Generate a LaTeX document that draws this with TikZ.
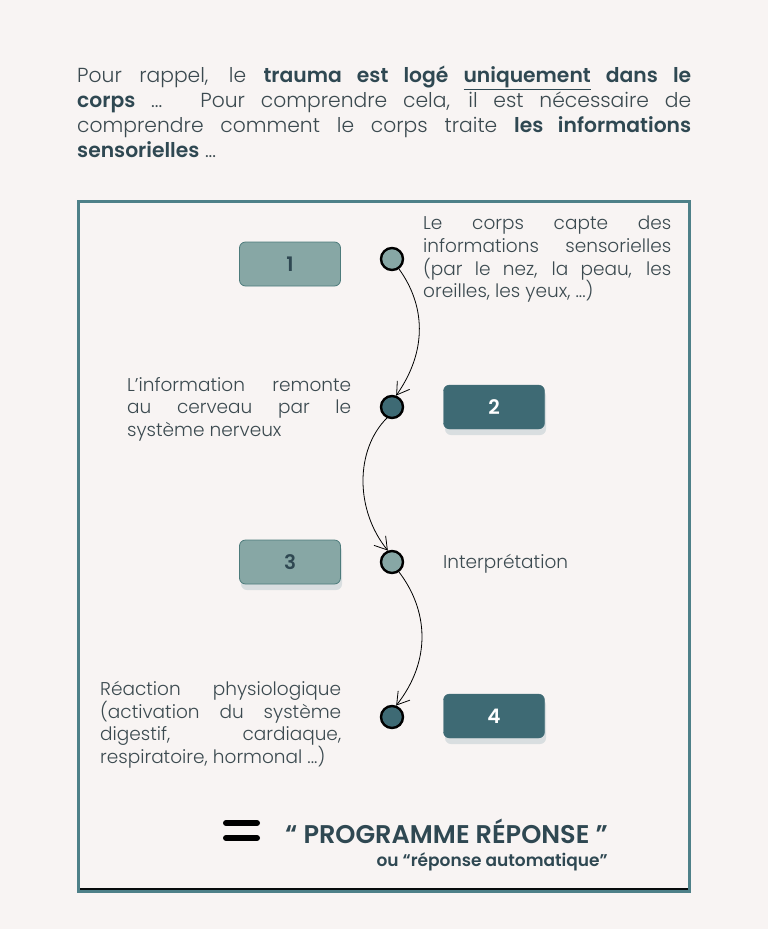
\documentclass[tikz,border=0pt]{standalone}
\usepackage{fontspec}
\IfFontExistsTF{Poppins Light}{\IfFontExistsTF{Poppins SemiBold}{\setmainfont{Poppins Light}[BoldFont=Poppins SemiBold]}{\setmainfont{Poppins Light}[BoldFont=Poppins Medium]}}{\setmainfont{Poppins}}
\usetikzlibrary{arrows.meta}
\definecolor{bg}{HTML}{F8F4F3}
\definecolor{ink}{HTML}{2F4852}
\definecolor{body}{HTML}{3C4A50}
\definecolor{lightbox}{HTML}{87A7A5}
\definecolor{lightedge}{HTML}{4D7B7B}
\definecolor{darkbox}{HTML}{3E6A74}
\definecolor{frame}{HTML}{4E8088}
\definecolor{shadowc}{HTML}{D9DEE0}
\tikzset{
  numbox/.style={rounded corners=6pt, minimum width=101pt, minimum height=44pt, font=\bfseries\fontsize{20}{20}\selectfont, inner sep=0pt},
  lightnum/.style={numbox, fill=lightbox, draw=lightedge, line width=0.8pt, text=ink},
  darknum/.style={numbox, fill=darkbox, draw=darkbox, text=white},
  dot/.style={circle, minimum size=22pt, inner sep=0pt, draw=black, line width=2.4pt},
  flow/.style={-{Straight Barb[length=12pt,width=15pt]}, line width=0.8pt, black},
  para/.style={anchor=north west, inner sep=0pt, align=justify, text=body,
    font=\fontsize{18.5}{22.6}\selectfont\hyphenpenalty10000\exhyphenpenalty10000},
}
\begin{document}
\begin{tikzpicture}[x=1pt,y=-1pt]
\useasboundingbox[fill=bg] (0,0) rectangle (768,929);
% intro text
\node[anchor=north west, inner sep=0pt, text width=614pt, align=justify, text=body,
  font=\fontsize{20.3}{25}\selectfont\hyphenpenalty10000] (intro) at (77,66)
  {Pour rappel, le \textcolor{ink}{\textbf{trauma est logé \underline{uniquement} dans le}}\linebreak
   \textcolor{ink}{\textbf{corps}} ... Pour comprendre cela, il est nécessaire de\linebreak
   comprendre comment le corps traite \textcolor{ink}{\textbf{les informations}}\linebreak
   \textcolor{ink}{\textbf{sensorielles}} ...};
% frame
\draw[frame, line width=3pt] (78.5,201.5) rectangle (689,891);
\draw[black!85!ink, line width=2pt] (80,888.5) -- (687.5,888.5);
% shadows
\fill[shadowc, rounded corners=6pt] (445,390) rectangle (546,435);
\fill[shadowc, rounded corners=6pt] (241,545) rectangle (342,590);
\fill[shadowc, rounded corners=6pt] (445,699) rectangle (546,744);
% number boxes
\node[lightnum] (b1) at (290,264) {1};
\node[darknum] (b2) at (494,407) {2};
\node[lightnum] (b3) at (290,562) {3};
\node[darknum] (b4) at (494,716) {4};
% dots
\node[dot, fill=lightbox] (c1) at (392,259) {};
\node[dot, fill=darkbox] (c2) at (392,407) {};
\node[dot, fill=lightbox] (c3) at (392,562) {};
\node[dot, fill=darkbox] (c4) at (392,717) {};
% arrows
\draw[flow] (c1.-55) .. controls (425,305) and (428,350) .. (c2.70);
\draw[flow] (c2.-115) .. controls (355,450) and (355,510) .. (c3.110);
\draw[flow] (c3.-55) .. controls (428,610) and (432,660) .. (c4.70);
% texts
\node[para, text width=248pt] (t1) at (423,216)
  {Le corps capte des\linebreak informations sensorielles\linebreak (par le nez, la peau, les\linebreak oreilles, les yeux, ...)};
\node[para, text width=224pt] (t2) at (127,377)
  {L’information remonte\linebreak au cerveau par le\linebreak système nerveux};
\node[anchor=west, inner sep=0pt, text=body, font=\fontsize{18.5}{22.6}\selectfont] (t3) at (443,564) {Interprétation};
\node[para, text width=241pt] (t4) at (100,681)
  {Réaction physiologique\linebreak (activation du système\linebreak digestif, cardiaque,\linebreak respiratoire, hormonal ...)};
% equals
\draw[black, line width=6pt, line cap=round] (226,823) -- (257,823);
\draw[black, line width=6pt, line cap=round] (226,838) -- (257,838);
\coordinate (eq) at (241,830);
\node[anchor=west, inner sep=0pt, text=ink, font=\bfseries\fontsize{25.6}{26}\selectfont] (prog) at (285,831) {“ PROGRAMME RÉPONSE ”};
\node[anchor=east, inner sep=0pt, text=ink, font=\bfseries\fontsize{17}{17}\selectfont] (auto) at (608,862) {ou “réponse automatique”};
\end{tikzpicture}
\end{document}
